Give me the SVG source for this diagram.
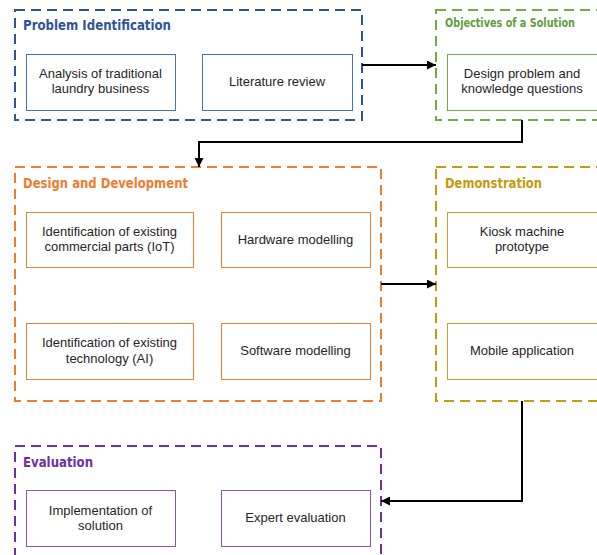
<svg xmlns="http://www.w3.org/2000/svg" width="597" height="555" viewBox="0 0 597 555">
<defs>
<marker id="ah" viewBox="0 0 10 10" refX="10" refY="5" markerWidth="9" markerHeight="9" markerUnits="userSpaceOnUse" orient="auto">
<path d="M0,0 L10,5 L0,10 z" fill="#000"/>
</marker>
<style>
.cont{fill:none;stroke-width:2;stroke-dasharray:10 6}
.box{fill:#fff;stroke-width:1}
.title{font-family:"DejaVu Sans Condensed","DejaVu Sans",sans-serif;font-weight:bold;font-size:13.5px}
.t{font-family:"Liberation Sans",Arial,sans-serif;font-size:13px;fill:#262626;text-anchor:middle}
.conn{fill:none;stroke:#000;stroke-width:2}
</style>
</defs>
<rect width="597" height="555" fill="#fff"/>

<g id="problem-identification">
<rect class="cont" x="15" y="10" width="347" height="110" stroke="#2F5597"/>
<text class="title" x="23" y="30" fill="#2F5597" textLength="148" lengthAdjust="spacingAndGlyphs">Problem Identification</text>
<g id="analysis">
<rect class="box" x="26.5" y="54.5" width="149" height="56" stroke="#4472C4"/>
<text class="t" x="100.5" y="78">Analysis of traditional</text>
<text class="t" x="100.5" y="93">laundry business</text>
</g>
<g id="literature">
<rect class="box" x="202.5" y="54.5" width="150" height="56" stroke="#4472C4"/>
<text class="t" x="277" y="86">Literature review</text>
</g>
</g>

<g id="objectives">
<rect class="cont" x="436" y="10" width="180" height="110" stroke="#70AD47"/>
<text class="title" x="445" y="27" fill="#5E9E3A" style="font-size:12.5px" textLength="130" lengthAdjust="spacingAndGlyphs">Objectives of a Solution</text>
<g id="design-problem">
<rect class="box" x="447.5" y="54.5" width="160" height="56" stroke="#70AD47"/>
<text class="t" x="522" y="78">Design problem and</text>
<text class="t" x="522" y="93">knowledge questions</text>
</g>
</g>

<g id="design-development">
<rect class="cont" x="15" y="167" width="366" height="234" stroke="#ED7D31"/>
<text class="title" x="23" y="188" fill="#ED7D31" textLength="165" lengthAdjust="spacingAndGlyphs">Design and Development</text>
<g id="iot">
<rect class="box" x="26.5" y="212.5" width="167" height="55" stroke="#ED7D31"/>
<text class="t" x="109.5" y="236">Identification of existing</text>
<text class="t" x="109.5" y="251">commercial parts (IoT)</text>
</g>
<g id="hardware">
<rect class="box" x="221.5" y="212.5" width="149" height="55" stroke="#ED7D31"/>
<text class="t" x="295.5" y="244">Hardware modelling</text>
</g>
<g id="ai">
<rect class="box" x="26.5" y="323.5" width="167" height="56" stroke="#ED7D31"/>
<text class="t" x="109.5" y="347">Identification of existing</text>
<text class="t" x="109.5" y="363">technology (AI)</text>
</g>
<g id="software">
<rect class="box" x="221.5" y="323.5" width="149" height="56" stroke="#ED7D31"/>
<text class="t" x="295.5" y="355">Software modelling</text>
</g>
</g>

<g id="demonstration">
<rect class="cont" x="436" y="167" width="180" height="234" stroke="#C59A0C"/>
<text class="title" x="445" y="188" fill="#C59A0C" textLength="97" lengthAdjust="spacingAndGlyphs">Demonstration</text>
<g id="kiosk">
<rect class="box" x="447.5" y="212.5" width="160" height="55" stroke="#C9A227"/>
<text class="t" x="522" y="236">Kiosk machine</text>
<text class="t" x="522" y="251">prototype</text>
</g>
<g id="mobile">
<rect class="box" x="447.5" y="323.5" width="160" height="56" stroke="#C9A227"/>
<text class="t" x="522" y="355">Mobile application</text>
</g>
</g>

<g id="evaluation">
<rect class="cont" x="15" y="446" width="366" height="130" stroke="#7030A0"/>
<text class="title" x="23" y="467" fill="#7030A0" textLength="70" lengthAdjust="spacingAndGlyphs">Evaluation</text>
<g id="implementation">
<rect class="box" x="26.5" y="490.5" width="149" height="56" stroke="#8E4FC0"/>
<text class="t" x="100.5" y="515">Implementation of</text>
<text class="t" x="100.5" y="530">solution</text>
</g>
<g id="expert">
<rect class="box" x="221.5" y="490.5" width="149" height="56" stroke="#8E4FC0"/>
<text class="t" x="295.5" y="522">Expert evaluation</text>
</g>
</g>

<g id="connectors">
<path class="conn" d="M362,65 L436,65" marker-end="url(#ah)"/>
<path class="conn" d="M522,120 L522,142 L199,142 L199,167" marker-end="url(#ah)"/>
<path class="conn" d="M381,284 L436,284" marker-end="url(#ah)"/>
<path class="conn" d="M522,401 L522,501 L381,501" marker-end="url(#ah)"/>
</g>
</svg>
